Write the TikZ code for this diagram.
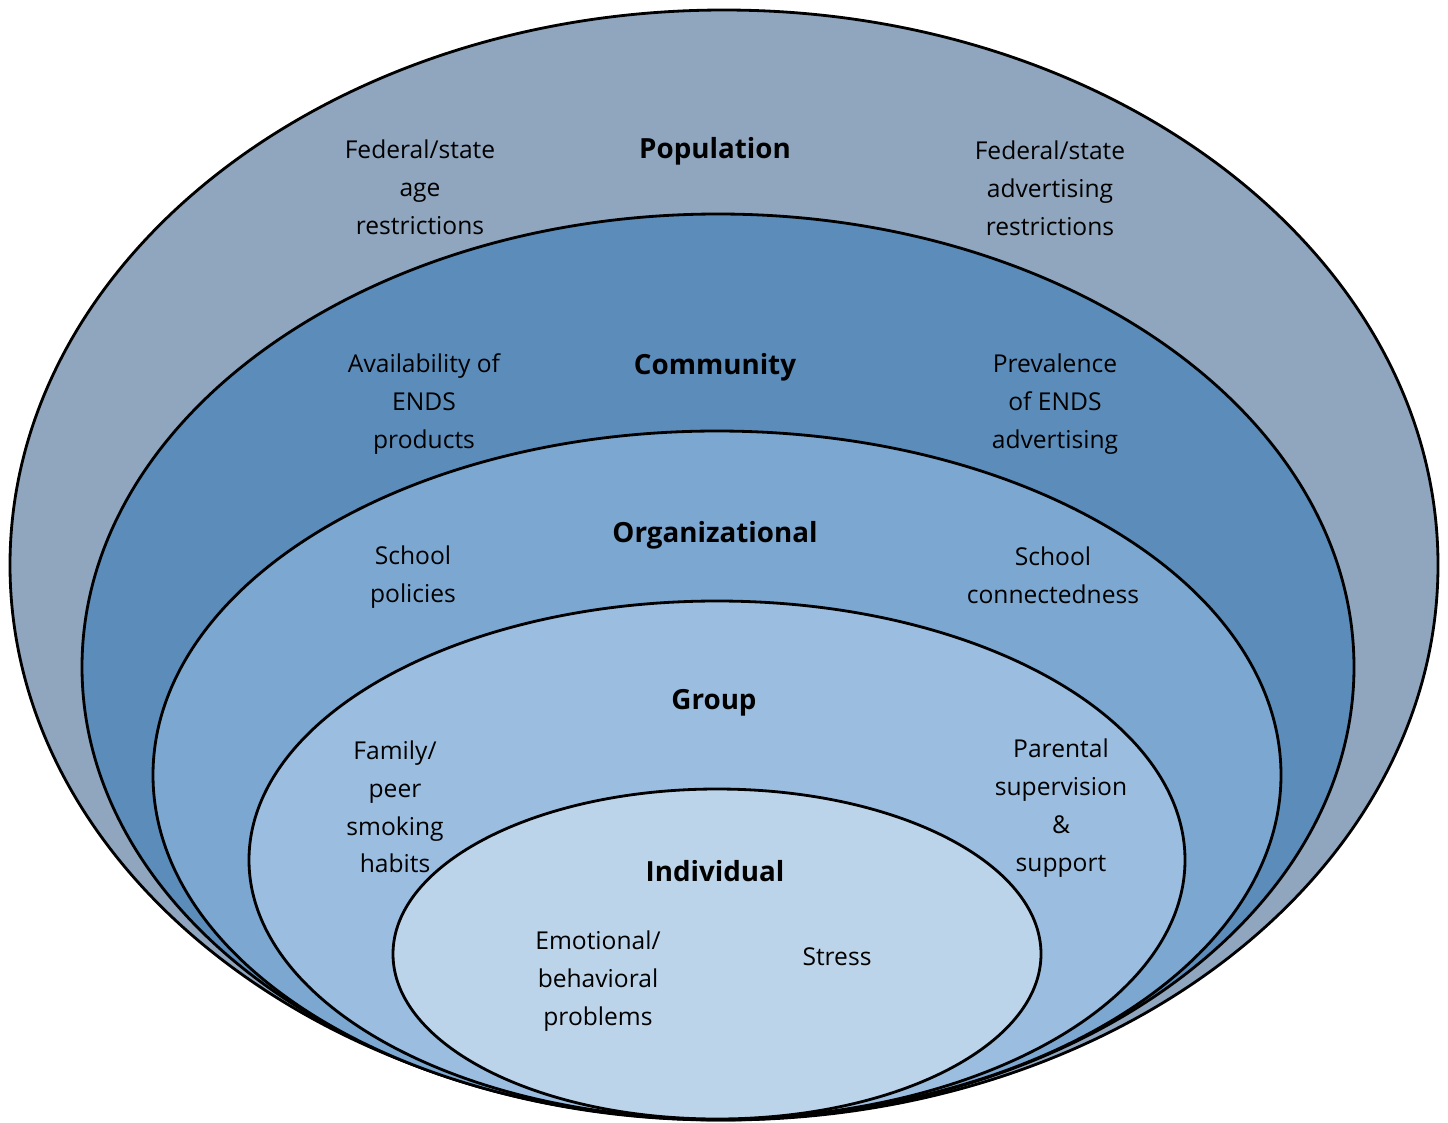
\documentclass[tikz,border=0pt]{standalone}
\usepackage{fontspec}
\setmainfont{Open Sans}
\usepackage{tikz}
\usepackage{xcolor}
\usetikzlibrary{positioning}

\definecolor{popcol}{HTML}{8FA6BE}
\definecolor{comcol}{HTML}{5B8CBA}
\definecolor{orgcol}{HTML}{7BA7D0}
\definecolor{grpcol}{HTML}{9BBDE0}
\definecolor{indcol}{HTML}{BCD4EA}

\tikzset{
    ring/.style={draw=black, line width=1.6pt},
    lbl/.style={align=center, font=\fontsize{14}{21.5}\selectfont, inner sep=0pt},
    hdr/.style={font=\fontsize{15.8}{21.5}\selectfont\bfseries, inner sep=0pt}
}

\begin{document}
\begin{tikzpicture}[x=0.02cm, y=-0.02cm]
                        \useasboundingbox (0, 0) rectangle (1448, 1123);

                        % levels, outer to inner
                        \draw[ring, fill=popcol] (724, 565) ellipse [x radius=714, y radius=555];
                        \draw[ring, fill=comcol] (718, 667) ellipse [x radius=636, y radius=453];
                        \draw[ring, fill=orgcol] (717, 775) ellipse [x radius=564, y radius=344];
                        \draw[ring, fill=grpcol] (717, 860) ellipse [x radius=468, y radius=259];
                        \draw[ring, fill=indcol] (717, 954) ellipse [x radius=324, y radius=165];

                        \node[hdr] (pop) at (715, 151) {Population};
                        \node[lbl] (popl) at (420, 187) {Federal/state\\age\\restrictions};
                        \node[lbl] (popr) at (1050, 188) {Federal/state\\advertising\\restrictions};

                        \node[hdr] (com) at (715, 367) {Community};
                        \node[lbl] (coml) at (424, 404) {Availability of\\ENDS\\products};
                        \node[lbl] (comr) at (1055, 404) {Prevalence\\of ENDS\\advertising};

                        \node[hdr] (org) at (715, 535) {Organizational};
                        \node[lbl] (orgl) at (413, 577) {School\\policies};
                        \node[lbl] (orgr) at (1053, 575) {School\\connectedness};

                        \node[hdr] (grp) at (714, 703) {Group};
                        \node[lbl] (grpl) at (395, 807) {Family/\\peer\\smoking\\habits};
                        \node[lbl] (grpr) at (1061, 808) {Parental\\supervision\\\&\\support};

                        \node[hdr] (ind) at (715, 871) {Individual};
                        \node[lbl] (indl) at (598, 981) {Emotional/\\behavioral\\problems};
                        \node[lbl] (indr) at (837, 957) {Stress};
                    \end{tikzpicture}
\end{document}
